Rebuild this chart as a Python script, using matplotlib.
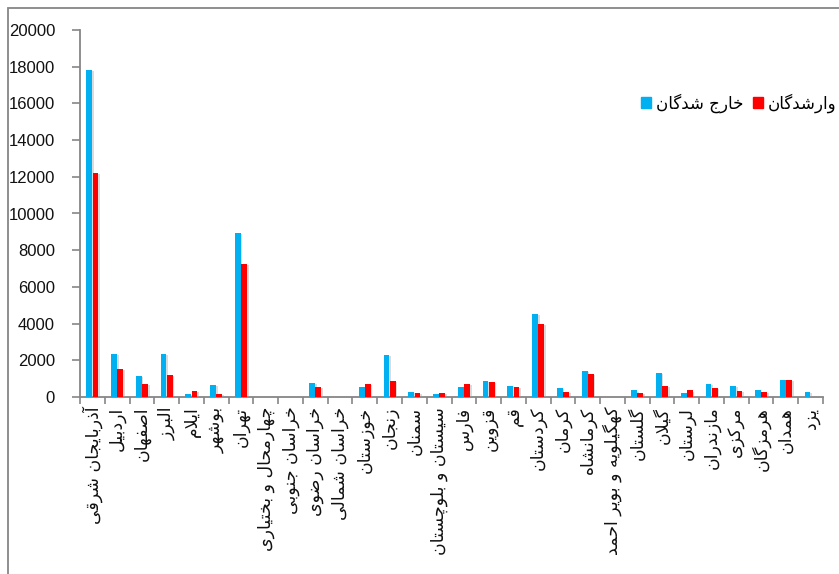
import matplotlib
matplotlib.use("Agg")
import matplotlib.pyplot as plt
import matplotlib.patheffects as pe
from matplotlib.patches import Rectangle, Patch
import numpy as np

# ---------------- data ----------------
provinces = [
    "آذربایجان شرقی", "اردبیل", "اصفهان", "البرز", "ایلام", "بوشهر", "تهران",
    "چهارمحال و بختیاری", "خراسان جنوبی", "خراسان رضوی", "خراسان شمالی",
    "خوزستان", "زنجان", "سمنان", "سیستان و بلوچستان", "فارس", "قزوین", "قم",
    "کردستان", "کرمان", "کرمانشاه", "کهگیلویه و بویر احمد", "گلستان", "گیلان",
    "لرستان", "مازندران", "مرکزی", "هرمزگان", "همدان", "یزد",
]
exited = [17820, 2340, 1140, 2340, 160, 640, 8940, 0, 0, 780, 0, 530, 2290,
          260, 150, 530, 890, 600, 4520, 470, 1420, 0, 360, 1310, 200, 710,
          600, 360, 940, 260]
entered = [12200, 1530, 710, 1190, 320, 160, 7270, 0, 0, 530, 0, 730, 890,
           200, 200, 730, 835, 530, 3960, 260, 1250, 0, 200, 600, 360, 470,
           310, 260, 940, 0]
series_names = ["خارج شدگان", "وارشدگان"]
yticks = [0, 2000, 4000, 6000, 8000, 10000, 12000, 14000, 16000, 18000, 20000]

# ------------- minimal Arabic/Persian shaping -------------
# letter: (isolated, final, initial, medial)
FORMS = {
    0x0622: (0xFE81, 0xFE82, None, None),
    0x0627: (0xFE8D, 0xFE8E, None, None),
    0x0628: (0xFE8F, 0xFE90, 0xFE91, 0xFE92),
    0x062A: (0xFE95, 0xFE96, 0xFE97, 0xFE98),
    0x062B: (0xFE99, 0xFE9A, 0xFE9B, 0xFE9C),
    0x062C: (0xFE9D, 0xFE9E, 0xFE9F, 0xFEA0),
    0x062D: (0xFEA1, 0xFEA2, 0xFEA3, 0xFEA4),
    0x062E: (0xFEA5, 0xFEA6, 0xFEA7, 0xFEA8),
    0x062F: (0xFEA9, 0xFEAA, None, None),
    0x0630: (0xFEAB, 0xFEAC, None, None),
    0x0631: (0xFEAD, 0xFEAE, None, None),
    0x0632: (0xFEAF, 0xFEB0, None, None),
    0x0633: (0xFEB1, 0xFEB2, 0xFEB3, 0xFEB4),
    0x0634: (0xFEB5, 0xFEB6, 0xFEB7, 0xFEB8),
    0x0635: (0xFEB9, 0xFEBA, 0xFEBB, 0xFEBC),
    0x0636: (0xFEBD, 0xFEBE, 0xFEBF, 0xFEC0),
    0x0637: (0xFEC1, 0xFEC2, 0xFEC3, 0xFEC4),
    0x0638: (0xFEC5, 0xFEC6, 0xFEC7, 0xFEC8),
    0x0639: (0xFEC9, 0xFECA, 0xFECB, 0xFECC),
    0x063A: (0xFECD, 0xFECE, 0xFECF, 0xFED0),
    0x0641: (0xFED1, 0xFED2, 0xFED3, 0xFED4),
    0x0642: (0xFED5, 0xFED6, 0xFED7, 0xFED8),
    0x0644: (0xFEDD, 0xFEDE, 0xFEDF, 0xFEE0),
    0x0645: (0xFEE1, 0xFEE2, 0xFEE3, 0xFEE4),
    0x0646: (0xFEE5, 0xFEE6, 0xFEE7, 0xFEE8),
    0x0647: (0xFEE9, 0xFEEA, 0xFEEB, 0xFEEC),
    0x0648: (0xFEED, 0xFEEE, None, None),
    0x06CC: (0xFBFC, 0xFBFD, 0xFBFE, 0xFBFF),
    0x064A: (0xFEF1, 0xFEF2, 0xFEF3, 0xFEF4),
    0x067E: (0xFB56, 0xFB57, 0xFB58, 0xFB59),
    0x0686: (0xFB7A, 0xFB7B, 0xFB7C, 0xFB7D),
    0x0698: (0xFB8A, 0xFB8B, None, None),
    0x06A9: (0xFB8E, 0xFB8F, 0xFB90, 0xFB91),
    0x06AF: (0xFB92, 0xFB93, 0xFB94, 0xFB95),
}
LAM_ALEF = {0x0627: (0xFEFB, 0xFEFC), 0x0622: (0xFEF5, 0xFEF6)}


def shape(text):
    cps = [ord(c) for c in text]
    out = []
    i = 0
    n = len(cps)
    while i < n:
        c = cps[i]
        if c not in FORMS:
            out.append(chr(c))
            i += 1
            continue
        prev = cps[i - 1] if i > 0 else None
        joins_prev = prev in FORMS and FORMS[prev][2] is not None
        if c == 0x0644 and i + 1 < n and cps[i + 1] in LAM_ALEF:
            iso, fin = LAM_ALEF[cps[i + 1]]
            out.append(chr(fin if joins_prev else iso))
            i += 2
            continue
        nxt = cps[i + 1] if i + 1 < n else None
        dual = FORMS[c][2] is not None
        joins_next = dual and nxt in FORMS
        iso, fin, ini, med = FORMS[c]
        if joins_prev and joins_next:
            g = med
        elif joins_prev:
            g = fin
        elif joins_next:
            g = ini
        else:
            g = iso
        out.append(chr(g))
        i += 1
    return "".join(out[::-1])


# ---------------- figure ----------------
BLUE = "#00B0F0"
RED = "#FF0000"
GRAY = "#868686"

fig = plt.figure(figsize=(8.39, 5.74), dpi=100)
ax = fig.add_axes([80 / 839, 1 - 397 / 574, (823 - 80) / 839, (397 - 30) / 574])

x = np.arange(len(provinces))
w = 0.235
shadow = [pe.SimplePatchShadow(offset=(1.2, -0.8), shadow_rgbFace="#9a9a9a", alpha=0.35), pe.Normal()]
ax.bar(x - 0.125, exited, width=w, color=BLUE, label=series_names[0], path_effects=shadow, zorder=3)
ax.bar(x + 0.125, entered, width=w, color=RED, label=series_names[1], path_effects=shadow, zorder=3)

ax.set_xlim(-0.5, len(provinces) - 0.5)
ax.set_ylim(0, 20000)
ax.set_yticks(yticks)
ax.set_yticklabels([str(v) for v in yticks], fontsize=12, family="Liberation Sans", color="#111111")

ax.set_xticks(x)
ax.set_xticklabels([shape(p) for p in provinces], rotation=90, fontsize=12.5,
                   family="DejaVu Sans", color="#111111")
ax.set_xticks(np.arange(-0.5, len(provinces)), minor=True)
ax.tick_params(axis="x", which="major", length=0, pad=7)
ax.tick_params(axis="x", which="minor", length=5, width=1.2, color=GRAY, direction="out")
ax.tick_params(axis="y", length=6, width=1.2, color=GRAY, direction="out", pad=12)

for s in ("top", "right"):
    ax.spines[s].set_visible(False)
for s in ("left", "bottom"):
    ax.spines[s].set_color(GRAY)
    ax.spines[s].set_linewidth(1.3)

handles = [Patch(color=BLUE), Patch(color=RED)]
labels = [shape(series_names[0]), shape(series_names[1])]
fig.legend(handles, labels, loc="center left", bbox_to_anchor=(641 / 839, 1 - 103 / 574),
           ncol=2, markerfirst=True, frameon=False, borderpad=0, borderaxespad=0,
           handlelength=0.6, handleheight=0.6, handletextpad=0.3, columnspacing=0.55,
           prop={"family": "DejaVu Sans", "size": 12})

fig.patches.append(Rectangle((7.5 / 839, -0.05), 1.2, 1 - 7.5 / 574 + 0.05,
                             transform=fig.transFigure, fill=False,
                             edgecolor=GRAY, linewidth=1.3, zorder=10))

fig.savefig("out.png", dpi=100)
